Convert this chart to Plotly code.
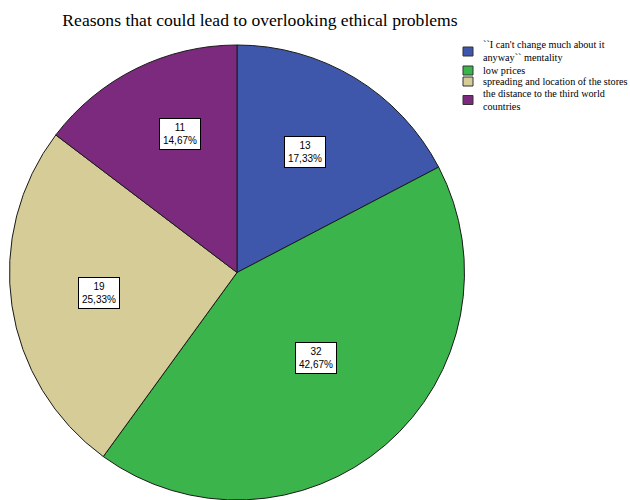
import math
import plotly.graph_objects as go

categories = [
    "``I can't change much about it<br>anyway`` mentality",
    "low prices",
    "spreading and location of the stores",
    "the distance to the third world<br>countries",
]
counts = [13, 32, 19, 11]
colors = ["#3E57AB", "#3BB54B", "#D5CC97", "#7B2A7E"]

W, H = 630, 500
total = sum(counts)

# pie geometry (pixels)
cx, cy, R = 237, 273, 228
dom_x = [(cx - R) / W, (cx + R) / W]
dom_y = [max(0, 1 - (cy + R) / H), 1 - (cy - R) / H]

fig = go.Figure(go.Pie(
    labels=categories,
    values=counts,
    sort=False,
    direction="clockwise",
    rotation=0,
    marker=dict(colors=colors, line=dict(color="#1a1a1a", width=1)),
    textinfo="none",
    hoverinfo="label+value+percent",
    domain=dict(x=dom_x, y=dom_y),
    showlegend=False,
))

# value labels (boxed) placed along each slice's mid-angle
label_r = [0.61, 0.51, 0.61, 0.66]
label_dang = [-2, -2, 0, 4]  # small angular nudges in degrees
annotations = []
cum = 0
for v, lr, da in zip(counts, label_r, label_dang):
    mid = (cum + v / 2) / total * 2 * math.pi + math.radians(da)
    cum += v
    px = cx + lr * R * math.sin(mid)
    py = cy - lr * R * math.cos(mid)
    pct = f"{v / total * 100:.2f}".replace(".", ",")
    annotations.append(dict(
        x=px / W, y=1 - py / H, xref="paper", yref="paper",
        xanchor="center", yanchor="middle",
        text=f"{v}<br>{pct}%", showarrow=False,
        font=dict(family="Liberation Sans, Arial", size=10, color="black"),
        bgcolor="white", bordercolor="black", borderwidth=1, borderpad=3,
        align="center",
    ))

# legend (drawn manually to match the compact SPSS-style legend)
legend_y = [51.5, 70.5, 81.5, 100]
shapes = []
for lab, col, ly in zip(categories, colors, legend_y):
    shapes.append(dict(
        type="rect", xref="paper", yref="paper",
        x0=463 / W, x1=473 / W, y0=1 - (ly + 4.5) / H, y1=1 - (ly - 4.5) / H,
        fillcolor=col, line=dict(color="#333333", width=1),
    ))
    annotations.append(dict(
        x=481 / W, y=1 - ly / H, xref="paper", yref="paper",
        xanchor="left", yanchor="middle", align="left",
        text=lab, showarrow=False,
        font=dict(family="Liberation Serif", size=10.2, color="black"),
    ))

fig.update_layout(
    width=W, height=H,
    margin=dict(l=0, r=0, t=0, b=0),
    paper_bgcolor="white",
    showlegend=False,
    title=dict(
        text="Reasons that could lead to overlooking ethical problems",
        x=260 / W, xanchor="center", y=1 - 20 / H, yanchor="middle",
        font=dict(family="Liberation Serif", size=17.6, color="black"),
    ),
    annotations=annotations,
    shapes=shapes,
)

fig.write_html("out.html")
